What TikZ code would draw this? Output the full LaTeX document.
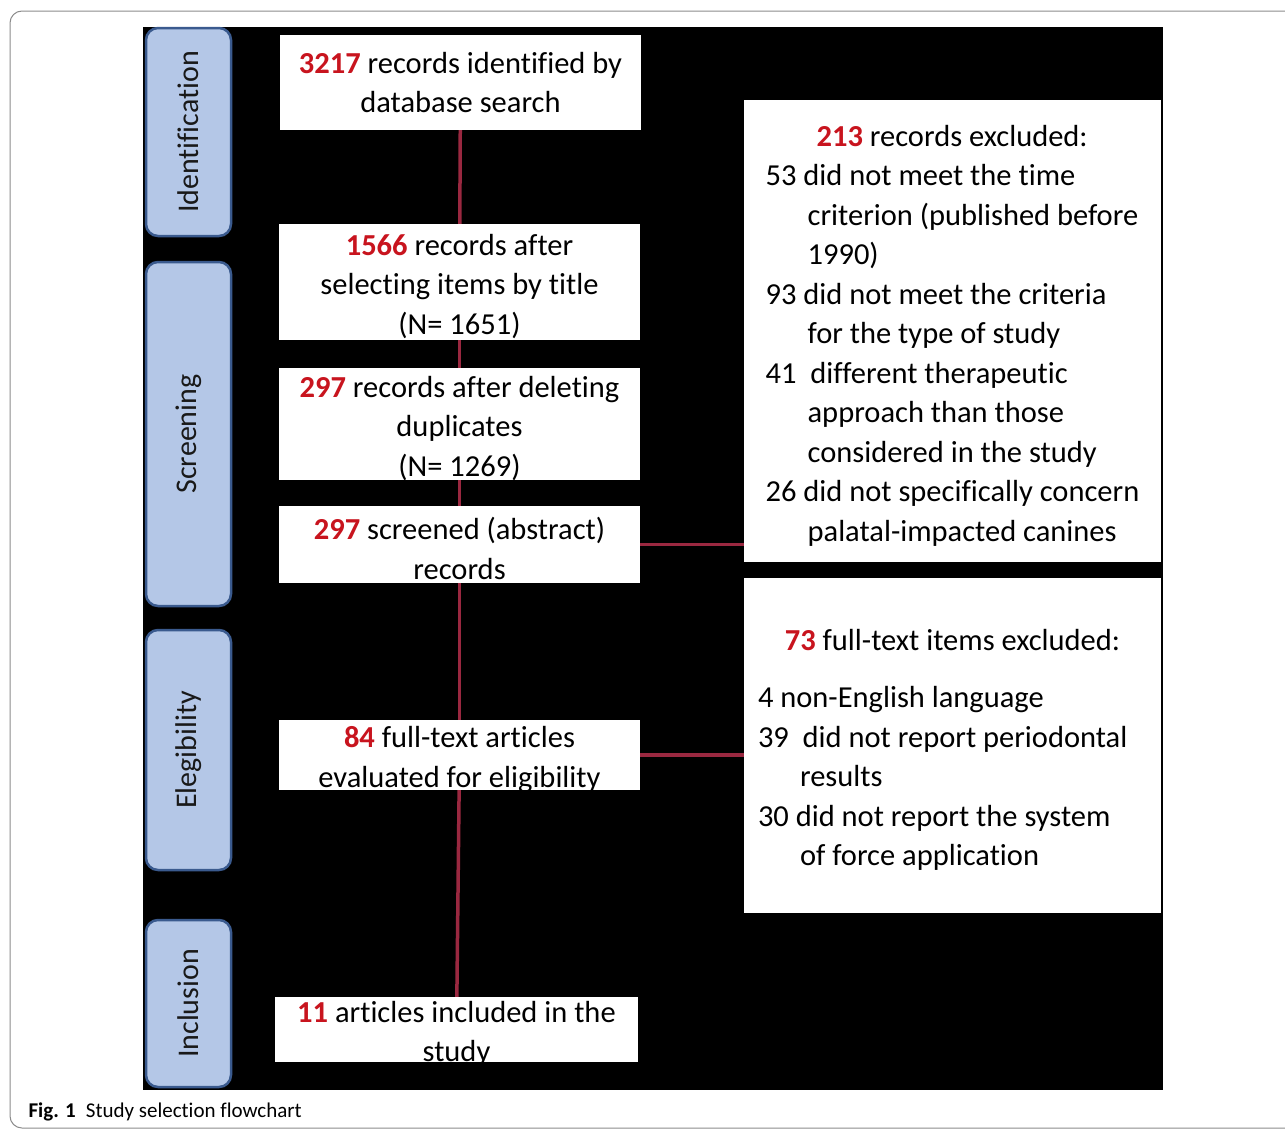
\documentclass[tikz,border=0pt]{standalone}
\usepackage{fontspec}
\setmainfont[Ligatures=NoCommon]{Carlito}
\usepackage{tikz}
\usetikzlibrary{positioning}
\usepackage{color}
\definecolor{stagefill}{HTML}{B4C7E7}
\definecolor{stageline}{HTML}{3A5A8E}
\definecolor{numred}{HTML}{C8141E}
\definecolor{linkred}{HTML}{9A2840}
\tikzstyle{stage} = [rectangle, rounded corners=12pt, draw=stageline, line width=2.5pt, fill=stagefill, minimum height=85pt, text=black!90, font=\fontsize{30}{36}\selectfont]
\tikzstyle{recbox} = [rectangle, fill=white, inner xsep=0pt, inner ysep=-6pt, minimum width=361pt, align=center, font=\fontsize{30.5}{39.5}\selectfont]
\tikzstyle{exclbox} = [rectangle, fill=white, inner sep=0pt, minimum width=417pt, align=left, font=\fontsize{30.5}{39.5}\selectfont]
\tikzstyle{link} = [line width=3.5pt, draw=linkred]
\newcommand{\num}[1]{\textcolor{numred}{\textbf{#1}}}
\newcommand{\ind}{\hspace*{42pt}}
\newcommand{\lead}{\rule{0pt}{30pt}}

\begin{document}
\begin{tikzpicture}[x=1pt, y=-1pt]
\useasboundingbox (0,0) rectangle (1285,1130);
\draw [black!45, line width=1pt, rounded corners=12pt] (10,11) rectangle (1310,1128);
\fill [black] (143,27) rectangle (1163,1090);

\node [stage, rotate=90, minimum width=208pt] (ident) at (188.5,132) {Identification};
\node [stage, rotate=90, minimum width=344pt] (scr) at (188.5,434) {Screening};
\node [stage, rotate=90, minimum width=240pt] (elig) at (188.5,750) {Elegibility};
\node [stage, rotate=90, minimum width=167pt] (inc) at (188.5,1003.5) {Inclusion};

\node [recbox, minimum height=95pt] (search) at (460.5,82.5) {\num{3217} records identified by\\database search};
\node [recbox, minimum height=116pt] (title) at (459.5,282) {\lead\num{1566} records after\\selecting items by title\\(N= 1651)};
\node [recbox, minimum height=112pt] (dupl) at (459.5,424) {\lead\num{297} records after deleting\\duplicates\\(N= 1269)};
\node [recbox, minimum height=77pt] (screen) at (459.5,544.5) {\lead\num{297} screened (abstract)\\records};
\node [recbox, minimum height=70pt] (full) at (459.5,755) {\lead\num{84} full-text articles\\evaluated for eligibility};
\node [recbox, minimum height=65pt, minimum width=363pt] (incl) at (456.5,1029.5) {\lead\num{11} articles included in the\\study};

\node [exclbox, minimum height=462pt] (excl1) at (952.5,331) {\lead\makebox[373pt]{\num{213} records excluded:}\\53 did not meet the time\\\ind criterion (published before\\\ind 1990)\\93 did not meet the criteria\\\ind for the type of study\\41~~different therapeutic\\\ind approach than those\\\ind considered in the study\\26 did not specifically concern\\\ind palatal-impacted canines};
\node [exclbox, minimum height=335pt] (excl2) at (952.5,745.5) {\lead\makebox[389pt]{\num{73} full-text items excluded:}\\[18pt]4 non-English language\\39~~did not report periodontal\\\ind results\\30 did not report the system\\\ind of force application};

\draw [link] (search) -- (title);
\draw [link] (title) -- (dupl);
\draw [link] (dupl) -- (screen);
\draw [link] (screen) -- (full);
\draw [link] (full) -- (incl);
\draw [link] (screen.east) -- (screen.east -| excl1.west);
\draw [link] (full.east) -- (full.east -| excl2.west);

\node [anchor=base west, font=\fontsize{21}{25}\selectfont] (caption) at (25,1117) {\textbf{Fig. 1}\hspace{10pt}Study selection flowchart};
\end{tikzpicture}
\end{document}
